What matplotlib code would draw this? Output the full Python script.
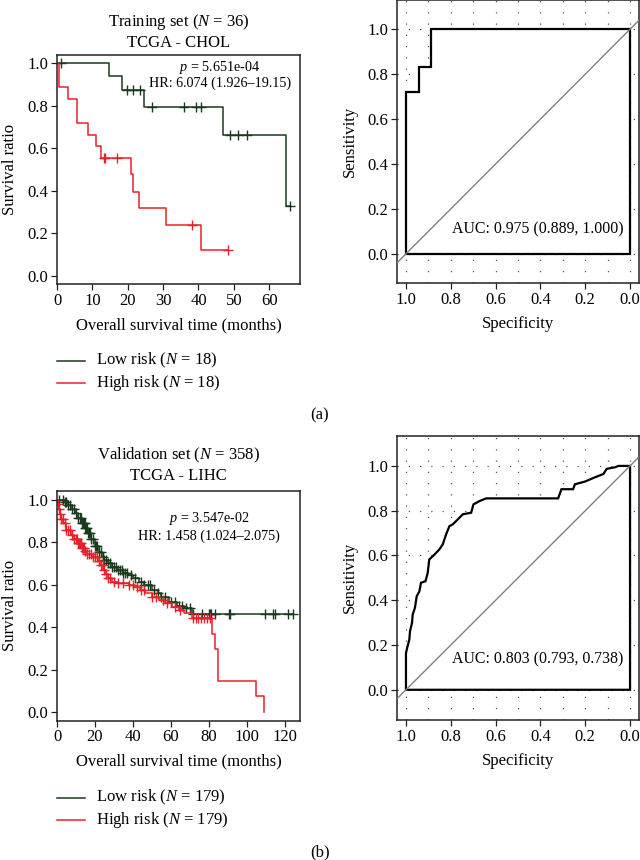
import numpy as np
import matplotlib
matplotlib.use("Agg")
import matplotlib.pyplot as plt
from matplotlib.lines import Line2D

plt.rcParams['font.family'] = ['Liberation Serif', 'DejaVu Serif']
plt.rcParams['mathtext.fontset'] = 'custom'
plt.rcParams['mathtext.rm'] = 'Liberation Serif'
plt.rcParams['mathtext.it'] = 'Liberation Serif:italic'
plt.rcParams['font.size'] = 12

GREEN = '#1a3a1e'
RED = '#e8202a'

# ---------------- Data: (a) TCGA-CHOL training set ----------------
chol_low_t = [0, 14.7, 18.5, 24.6, 46.8, 64.7]
chol_low_s = [1.0, 0.940, 0.876, 0.795, 0.663, 0.330]
chol_low_cens = [1.24, 19.9, 21.5, 23.5, 26.9, 35.9, 39.2, 40.6, 48.9, 51.3, 53.6, 66.0]
chol_low_end = 66.0

chol_high_t = [0, 0.7, 3.1, 5.7, 8.9, 11.1, 12.4, 20.9, 21.4, 23.3, 30.9, 40.6]
chol_high_s = [1.0, 0.889, 0.834, 0.721, 0.665, 0.612, 0.554, 0.479, 0.396, 0.317, 0.236, 0.120]
chol_high_cens = [13.2, 13.7, 17.0, 38.3, 48.3]
chol_high_end = 48.3

roc_a_spec = [1.0, 1.0, 0.944, 0.944, 0.889, 0.889, 0.0]
roc_a_sens = [0.0, 0.722, 0.722, 0.833, 0.833, 1.0, 1.0]

# ---------------- Data: (b) TCGA-LIHC validation set ----------------
lihc_low_t = [0, 4, 6, 8, 9.5, 11, 13, 15, 16.5, 18, 20, 22, 23.5, 25, 27, 29, 32, 35,
              37.6, 40, 43, 46, 50, 53, 55, 59, 63, 67, 71]
lihc_low_s = [1.0, 0.99, 0.975, 0.955, 0.937, 0.915, 0.89, 0.865, 0.843, 0.815, 0.78, 0.755,
              0.732, 0.715, 0.70, 0.685, 0.669, 0.655, 0.646, 0.63, 0.614, 0.598, 0.575, 0.56,
              0.543, 0.52, 0.50, 0.488, 0.46]
lihc_low_cens = [1, 3, 4, 5, 6, 7, 8, 9, 10, 11, 12, 12.5, 13, 13.5, 14, 14.5, 15, 15.5, 16,
                 16.5, 17, 17.5, 18, 19, 20, 20.5, 21, 22, 23, 24, 25, 26, 27, 28, 29, 30, 31,
                 32, 33, 34, 35, 36, 37, 39, 41, 44, 46, 48, 49, 51, 53, 55, 57, 60, 62, 64,
                 66, 68, 70, 71.5, 76.3, 80, 80.5, 81, 83.2, 90.3, 91, 109.7, 113.8, 115,
                 121.7, 124]
lihc_low_end = 124.0

lihc_high_t = [0, 0.5, 0.9, 1.4, 2, 3.2, 5, 7.6, 9, 11, 13, 14.7, 16, 18.2, 21.7, 23, 24.4,
               26, 27, 29, 32, 38, 41, 43.8, 46.4, 50, 53.5, 57, 60.6, 64, 67, 71, 81.7,
               83.1, 84.9, 104.7, 109]
lihc_high_s = [1.0, 0.98, 0.955, 0.93, 0.906, 0.89, 0.858, 0.835, 0.815, 0.795, 0.772, 0.756,
               0.745, 0.732, 0.709, 0.69, 0.669, 0.65, 0.63, 0.614, 0.606, 0.598, 0.59, 0.575,
               0.559, 0.543, 0.528, 0.512, 0.496, 0.48, 0.465, 0.441, 0.367, 0.295, 0.146,
               0.074, 0.0]
lihc_high_cens = [0.5, 1, 1.5, 2, 3, 4, 5, 6, 7, 8, 9, 10, 10.5, 11, 11.5, 12, 12.5, 13,
                  13.5, 14, 15, 16, 17, 18, 19, 20, 21, 22, 23, 24, 25, 26, 27, 28, 30, 32,
                  35, 38, 40, 42, 44, 46, 50, 52, 56, 58, 62, 65, 71.7, 72.9, 74.3, 75.6,
                  77.4, 78.8, 80.6]
lihc_high_end = 109.0

roc_b_spec = [1.0, 1.0, 0.993, 0.985, 0.982, 0.973, 0.970, 0.96, 0.952, 0.94, 0.933, 0.913,
              0.903, 0.896, 0.873, 0.851, 0.836, 0.821, 0.806, 0.791, 0.769, 0.746, 0.709,
              0.699, 0.672, 0.642, 0.321, 0.306, 0.254, 0.246, 0.2015, 0.157, 0.119, 0.104,
              0.067, 0.052, 0.0]
roc_b_sens = [0.0, 0.164, 0.194, 0.224, 0.261, 0.299, 0.336, 0.366, 0.418, 0.44, 0.478, 0.485,
              0.522, 0.582, 0.604, 0.627, 0.649, 0.694, 0.731, 0.739, 0.761, 0.784, 0.791,
              0.828, 0.843, 0.855, 0.855, 0.896, 0.896, 0.918, 0.930, 0.949, 0.964, 0.987,
              0.994, 1.0, 1.0]

W, H = 640, 860
fig = plt.figure(figsize=(6.4, 8.6), dpi=100)


def pos(l, t, r, b):
    return [l / W, 1 - b / H, (r - l) / W, (b - t) / H]


def style_axes(ax):
    for sp in ax.spines.values():
        sp.set_linewidth(1.1)
        sp.set_color('#222222')
    ax.tick_params(direction='out', length=4.3, width=0.9, pad=2, labelsize=12,
                   color='#222222')


def km(ax, times, surv, cens, end, color):
    t = np.r_[times, end]
    s = np.r_[surv, surv[-1]]
    ax.step(t, s, where='post', color=color, lw=1.1)
    idx = np.searchsorted(times, cens, side='right') - 1
    ax.plot(cens, np.asarray(surv)[idx], '+', color=color, ms=7, mew=1.0)


def km_panel(rect, low, high, xmax, xticks, title, ptxt, hrtxt, txy, leg):
    ax = fig.add_axes(pos(*rect))
    km(ax, *low, GREEN)
    km(ax, *high, RED)
    ax.set_xlim(0, xmax)
    ax.set_ylim(-0.04, 1.04)
    ax.set_xticks(xticks)
    ax.set_yticks(np.arange(0, 1.01, 0.2))
    ax.set_yticklabels([f'{v:.1f}' for v in np.arange(0, 1.01, 0.2)])
    style_axes(ax)
    ax.set_xlabel('Overall survival time (months)', labelpad=6)
    ax.set_ylabel('Survival ratio', labelpad=7)
    ax.text(txy[0], txy[1], ptxt, ha='center', va='center', fontsize=10.2)
    ax.text(txy[0], txy[2], hrtxt, ha='center', va='center', fontsize=10.2)
    cx = (rect[0] + rect[2]) / 2
    fig.text(cx / W, 1 - title[2] / H, title[0] + '\n' + title[1], ha='center', va='center',
             linespacing=1.2)
    for (lab, yy, col) in leg:
        fig.add_artist(Line2D([57 / W, 85 / W], [1 - yy / H] * 2, color=col, lw=1.1,
                              transform=fig.transFigure))
        fig.text(95.7 / W, 1 - yy / H, lab, ha='left', va='center')
    return ax


def roc_panel(rect, spec, sens, ylim, auc, auc_y):
    ax = fig.add_axes(pos(*rect))
    ax.set_xlim(1.04, -0.04)
    ax.set_ylim(*ylim)
    for v in np.arange(0, 1.01, 0.1):
        ax.axvline(v, color='#555555', lw=0.9, ls=(0, (1, 8)), zorder=1)
    for v in np.arange(0, 1.01, 0.2):
        ax.axhline(v, color='#555555', lw=0.9, ls=(0, (1, 8)), zorder=1)
    ax.fill(np.r_[spec, 0.0, 1.0], np.r_[sens, 0.0, 0.0], facecolor='white',
            edgecolor='black', lw=1.6, zorder=3, joinstyle='miter')
    ax.axline((1, 0), (0, 1), color='#808080', lw=1.0, zorder=4)
    ticks = np.arange(0, 1.01, 0.2)
    ax.set_xticks(ticks)
    ax.set_xticklabels([f'{v:.1f}' for v in ticks])
    ax.set_yticks(ticks)
    ax.set_yticklabels([f'{v:.1f}' for v in ticks])
    style_axes(ax)
    ax.set_xlabel('Specificity', labelpad=6)
    ax.set_ylabel('Sensitivity', labelpad=7)
    ax.text(0.03, auc_y, auc, ha='right', va='center', zorder=5, fontsize=11.4)
    return ax


km_panel((57, 55, 300, 284),
         (chol_low_t, chol_low_s, chol_low_cens, chol_low_end),
         (chol_high_t, chol_high_s, chol_high_cens, chol_high_end),
         68.7, np.arange(0, 61, 10),
         ('Training set ($N$ = 36)', 'TCGA - CHOL', 31.7),
         '$p$ = 5.651e-04', 'HR: 6.074 (1.926–19.15)', (46, 0.979, 0.909),
         [('Low risk ($N$ = 18)', 360.7, GREEN), ('High risk ($N$ = 18)', 383, RED)])

roc_panel((397, 0, 639, 283), roc_a_spec, roc_a_sens, (-0.13, 1.13),
          'AUC: 0.975 (0.889, 1.000)', 0.107)

km_panel((57, 491, 300, 720.7),
         (lihc_low_t, lihc_low_s, lihc_low_cens, lihc_low_end),
         (lihc_high_t, lihc_high_s, lihc_high_cens, lihc_high_end),
         127.9, np.arange(0, 121, 20),
         ('Validation set ($N$ = 358)', 'TCGA - LIHC', 465),
         '$p$ = 3.547e-02', 'HR: 1.458 (1.024–2.075)', (80, 0.909, 0.827),
         [('Low risk ($N$ = 179)', 797.7, GREEN), ('High risk ($N$ = 179)', 820, RED)])

roc_panel((397, 435.7, 639, 720), roc_b_spec, roc_b_sens, (-0.135, 1.135),
          'AUC: 0.803 (0.793, 0.738)', 0.134)

fig.text(320 / W, 1 - 415.7 / H, '(a)', ha='center', va='center')
fig.text(320 / W, 1 - 852 / H, '(b)', ha='center', va='center')

fig.savefig('out.png', dpi=100)
